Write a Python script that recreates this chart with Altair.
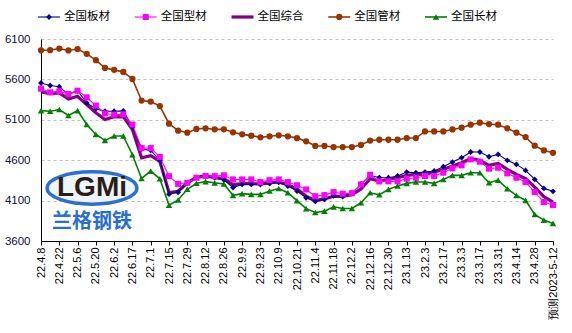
import altair as alt
import pandas as pd

dates = ["22.4.8","22.4.15","22.4.22","22.4.29","22.5.6","22.5.13","22.5.20","22.5.27",
         "22.6.2","22.6.10","22.6.17","22.6.24","22.7.1","22.7.8","22.7.15","22.7.22",
         "22.7.29","22.8.5","22.8.12","22.8.19","22.8.26","22.9.2","22.9.9","22.9.16",
         "22.9.23","22.9.30","22.10.9","22.10.14","22.10.21","22.10.28","22.11.4","22.11.11",
         "22.11.18","22.11.25","22.12.2","22.12.9","22.12.16","22.12.23","22.12.30","23.1.6",
         "23.1.13","23.1.20","23.2.3","23.2.10","23.2.17","23.2.24","23.3.3","23.3.10",
         "23.3.17","23.3.24","23.3.31","23.4.7","23.4.14","23.4.21","23.4.28","23.5.5",
         "预测2023-5-12"]
label_dates = dates[::2]

series = ["全国板材", "全国型材", "全国综合", "全国管材", "全国长材"]
colors = ["#000080", "#FF00FF", "#800080", "#993300", "#008000"]
widths = [1.1, 1.1, 3.2, 1.6, 1.6]
draw_order = ["全国综合", "全国板材", "全国型材", "全国管材", "全国长材"]
marker_series = ["全国板材", "全国型材", "全国管材", "全国长材"]
marker_shapes = ["diamond", "square", "circle", "triangle-up"]
marker_sizes = [34, 42, 26, 38]

banca = [5555,5525,5510,5415,5460,5309,5235,5206,5206,5210,5010,4739,4722,4597,4180,4203,
         4318,4388,4400,4382,4357,4262,4300,4300,4298,4310,4325,4280,4218,4135,4090,4115,
         4160,4150,4187,4306,4410,4385,4383,4404,4453,4445,4453,4466,4519,4577,4631,4701,
         4701,4643,4672,4598,4548,4474,4362,4251,4215]
xingcai = [5485,5440,5452,5419,5460,5378,5276,5178,5165,5168,5041,4750,4750,4641,4402,4307,
           4320,4382,4405,4403,4413,4362,4362,4362,4329,4353,4362,4329,4290,4238,4155,4168,
           4205,4185,4192,4300,4420,4338,4338,4338,4371,4383,4404,4404,4445,4499,4536,4610,
           4581,4495,4507,4437,4383,4330,4206,4082,4045]
zonghe = [5444,5424,5432,5358,5391,5288,5186,5104,5137,5140,4980,4630,4655,4586,4200,4215,
          4318,4388,4405,4384,4372,4297,4310,4310,4306,4326,4330,4297,4244,4153,4100,4120,
          4153,4153,4174,4244,4370,4341,4362,4383,4412,4424,4424,4453,4486,4528,4569,4618,
          4598,4536,4561,4486,4424,4371,4268,4148,4082]
guancai = [5960,5962,5982,5958,5976,5916,5838,5741,5718,5692,5605,5338,5325,5270,5052,4966,
           4940,4986,4995,4982,4982,4945,4920,4904,4883,4896,4908,4896,4873,4834,4776,4776,
           4763,4763,4763,4788,4843,4853,4853,4853,4874,4874,4956,4956,4956,4981,5002,5039,
           5064,5047,5039,4994,4940,4886,4779,4721,4692]
changcai = [5214,5206,5227,5153,5214,5042,4919,4845,4899,4900,4668,4374,4465,4370,4043,4108,
            4240,4315,4335,4320,4305,4165,4186,4177,4177,4218,4250,4197,4100,4000,3953,3970,
            4023,4003,4003,4073,4197,4172,4239,4280,4313,4330,4330,4313,4362,4412,4412,4445,
            4445,4321,4354,4247,4165,4103,3929,3859,3818]

y_ticks = [3600, 4100, 4600, 5100, 5600, 6100]

values_by_series = {"全国板材": banca, "全国型材": xingcai, "全国综合": zonghe,
                    "全国管材": guancai, "全国长材": changcai}
rows = []
for s, vals in values_by_series.items():
    for d, v in zip(dates, vals):
        rows.append({"date": d, "series": s, "value": v})
df = pd.DataFrame(rows)
legend_df = pd.DataFrame({"series": series, "idx": list(range(len(series)))})
logo_df = pd.DataFrame({"a": [0]})

color_scale = alt.Scale(domain=series, range=colors)
shape_scale = alt.Scale(domain=marker_series, range=marker_shapes)
size_scale = alt.Scale(domain=marker_series, range=marker_sizes)
width_of = dict(zip(series, widths))

x_enc = alt.X("date:O", sort=dates,
              scale=alt.Scale(domain=dates, type="point", padding=0),
              axis=alt.Axis(values=label_dates, labelAngle=270, title=None,
                            labelFont="Liberation Sans", labelFontSize=11,
                            labelColor="#000000", tickSize=4, tickColor="#000000",
                            domainColor="#000000", labelPadding=2, grid=False))
y_enc = alt.Y("value:Q",
              scale=alt.Scale(domain=[3600, 6100], nice=False, zero=False),
              axis=alt.Axis(values=y_ticks, format="d", title=None, grid=True,
                            gridDash=[3, 3], gridColor="#c0c0c0", ticks=False,
                            labelPadding=11, labelFont="Liberation Sans",
                            labelFontSize=11.5, labelColor="#10103a",
                            domainColor="#000000"))

ellipse = ("M -1 0 C -1 -0.199 -0.552 -0.36 0 -0.36 C 0.552 -0.36 1 -0.199 1 0 "
           "C 1 0.199 0.552 0.36 0 0.36 C -0.552 0.36 -1 0.199 -1 0 Z")
logo_ring = alt.Chart(logo_df).mark_point(
    shape=ellipse, size=8100, filled=False, stroke="#2d6fd0", strokeWidth=3.5,
    fill="#eef4fc", fillOpacity=1
).encode(x=alt.value(51), y=alt.value(149))
logo_txt = alt.Chart(logo_df).mark_text(
    text="LGMi", font="Liberation Sans", fontSize=28, fontWeight="bold",
    color="#2b1d14", align="center", baseline="middle"
).encode(x=alt.value(51), y=alt.value(149))
logo_cn = alt.Chart(logo_df).mark_text(
    text="兰格钢铁", font="Noto Sans CJK SC", fontSize=20, fontWeight="bold",
    color="#2a6fd0", align="center", baseline="middle"
).encode(x=alt.value(51), y=alt.value(183))

line_layers = []
for s in draw_order:
    line_layers.append(
        alt.Chart(df).transform_filter(alt.datum.series == s)
        .mark_line(strokeWidth=width_of[s])
        .encode(x=x_enc, y=y_enc,
                color=alt.Color("series:N", scale=color_scale, legend=None))
    )
points = alt.Chart(df).transform_filter(
    alt.FieldOneOfPredicate(field="series", oneOf=marker_series)
).mark_point(filled=True, opacity=1).encode(
    x=x_enc, y=y_enc,
    color=alt.Color("series:N", scale=color_scale, legend=None),
    shape=alt.Shape("series:N", scale=shape_scale, legend=None),
    size=alt.Size("series:N", scale=size_scale, legend=None),
)
main = alt.layer(logo_ring, logo_txt, logo_cn, *line_layers, points)

leg_x = alt.X("idx:Q", scale=alt.Scale(domain=[0, 4], range=[8, 395], nice=False), axis=None)
leg_rules = []
for s in series:
    leg_rules.append(
        alt.Chart(legend_df).transform_filter(alt.datum.series == s)
        .mark_rule(xOffset=-11, x2Offset=11, strokeWidth=width_of[s])
        .encode(x=leg_x, x2="idx:Q", y=alt.value(-22),
                color=alt.Color("series:N", scale=color_scale, legend=None))
    )
leg_pts = alt.Chart(legend_df).transform_filter(
    alt.FieldOneOfPredicate(field="series", oneOf=marker_series)
).mark_point(filled=True, opacity=1).encode(
    x=leg_x, y=alt.value(-22),
    color=alt.Color("series:N", scale=color_scale, legend=None),
    shape=alt.Shape("series:N", scale=shape_scale, legend=None),
    size=alt.Size("series:N", scale=size_scale, legend=None),
)
leg_txt = alt.Chart(legend_df).mark_text(
    align="left", baseline="middle", dx=15, fontSize=11.5,
    font="Noto Sans CJK SC", color="#000000"
).encode(x=leg_x, y=alt.value(-22), text="series:N")
legend_layer = alt.layer(*leg_rules, leg_pts, leg_txt)

chart = alt.layer(main, legend_layer).resolve_scale(x="independent").properties(
    width=512, height=202,
    autosize=alt.AutoSizeParams(type="none"),
    padding={"left": 41, "top": 39, "right": 19, "bottom": 92},
    background="#ffffff",
).configure_view(stroke=None)

chart.save("out.html", embed_options={"renderer": "svg", "actions": False})
